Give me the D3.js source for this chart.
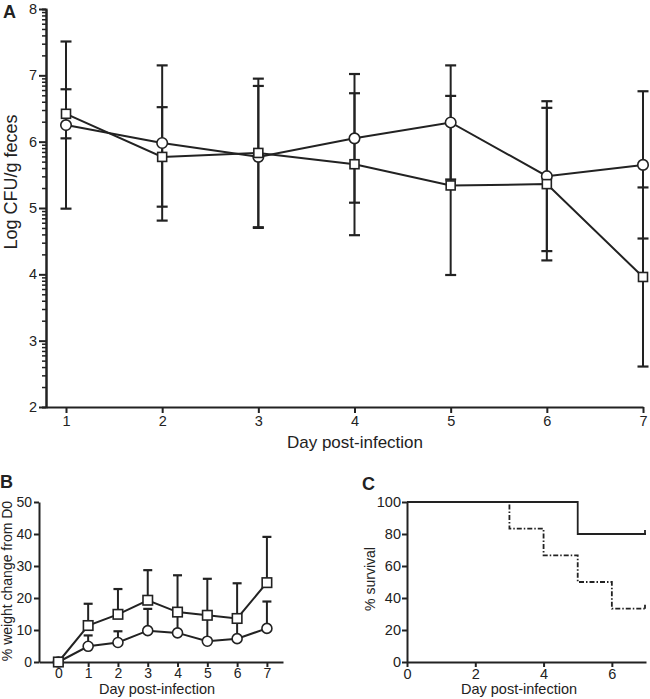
<!DOCTYPE html>
<html><head><meta charset="utf-8">
<script src="https://cdn.jsdelivr.net/npm/d3@7"></script>
<style>
body{margin:0;background:#fff;}
svg{display:block;font-family:"Liberation Sans",Arial,Helvetica,sans-serif;}
</style></head>
<body><svg id="c" width="650" height="699"></svg>
<script>
// ---------- Panel A data ----------
const daysA = [1, 2, 3, 4, 5, 6, 7];
const cfuCircleMean = [6.25, 5.98, 5.77, 6.05, 6.29, 5.48, 5.65];
const cfuCircleSD   = [1.26, 1.17, 1.07, 0.97, 0.86, 1.13, 1.11];
const cfuSquareMean = [6.42, 5.77, 5.83, 5.66, 5.34, 5.36, 3.96];
const cfuSquareSD   = [0.37, 0.75, 1.12, 1.07, 1.35, 1.15, 1.35];
const yTicksA = [2, 3, 4, 5, 6, 7, 8];

// ---------- Panel B data ----------
const daysB = [0, 1, 2, 3, 4, 5, 6, 7];
const wtSquareMean = [0, 11.4, 14.9, 19.3, 15.6, 14.6, 13.6, 24.8];
const wtSquareSD   = [0, 6.8, 7.9, 9.4, 11.5, 11.4, 11.0, 14.3];
const wtCircleMean = [0, 4.9, 6.1, 9.8, 9.1, 6.5, 7.3, 10.5];
const wtCircleSD   = [0, 3.4, 3.5, 6.8, 5.9, 7.5, 5.7, 8.4];
const yTicksB = [0, 10, 20, 30, 40, 50];

// ---------- Panel C data ----------
const survSolidDays = [0, 5, 7];
const survSolidPct  = [100, 80, 80];
const survDashDays  = [0, 3, 4, 5, 6, 7];
const survDashPct   = [100, 83.3, 66.7, 50, 33.3, 33.3];
const xTicksC = [0, 2, 4, 6];
const yTicksC = [0, 20, 40, 60, 80, 100];

const INK = "#222";
const FONT = '"Liberation Sans",Arial,Helvetica,sans-serif';
const svg = d3.select("#c");

function styleAxis(g, fs) {
  g.attr("font-size", fs).attr("font-family", FONT);
  g.select(".domain").attr("stroke", INK).attr("stroke-width", 2);
  g.selectAll(".tick line").attr("stroke", INK).attr("stroke-width", 2);
  g.selectAll(".tick text").attr("fill", INK).style("font-size", fs + "px").style("font-family", FONT);
}

// ================= Panel A =================
const xA = d3.scaleLinear().domain([0.792, 7]).range([46, 643]);
const yA = d3.scaleLinear().domain([2, 8]).range([407, 9]);

// minor log-style ticks
const minorA = [];
for (let n = 2; n < 8; n++) for (let k = 2; k <= 9; k++) minorA.push(n + Math.log10(k));
const gMinorA = svg.append("g").attr("transform", "translate(46,0)")
  .call(d3.axisLeft(yA).tickValues(minorA).tickSize(4).tickFormat(""));
styleAxis(gMinorA, 14);
gMinorA.selectAll(".tick line").attr("stroke-width", 1.5);

const gyA = svg.append("g").attr("transform", "translate(46,0)")
  .call(d3.axisLeft(yA).tickValues(yTicksA).tickSize(7).tickPadding(2).tickSizeOuter(0).tickFormat(d3.format("d")));
styleAxis(gyA, 14.5);

const gxA = svg.append("g").attr("transform", "translate(0,407)")
  .call(d3.axisBottom(xA).tickValues(daysA).tickSize(6).tickPadding(3).tickSizeOuter(0).tickFormat(d3.format("d")));
styleAxis(gxA, 14.5);

function drawSeries(gp, xs, means, sds, capW, upperOnly) {
  const data = xs.map((d, i) => ({x: d, m: means[i], s: sds[i]}));
  const eb = gp.append("g").attr("stroke", INK).attr("stroke-width", 2);
  data.forEach(d => {
    if (d.s <= 0) return;
    const lo = upperOnly ? d.m : d.m - d.s, hi = d.m + d.s;
    const cx = gp.xs(d.x);
    eb.append("line").attr("x1", cx).attr("x2", cx).attr("y1", gp.ys(lo)).attr("y2", gp.ys(hi));
    eb.append("line").attr("x1", cx - capW / 2).attr("x2", cx + capW / 2)
      .attr("y1", gp.ys(hi)).attr("y2", gp.ys(hi)).attr("stroke-width", 2.2);
    if (!upperOnly)
      eb.append("line").attr("x1", cx - capW / 2).attr("x2", cx + capW / 2)
        .attr("y1", gp.ys(lo)).attr("y2", gp.ys(lo)).attr("stroke-width", 2.2);
  });
  return data;
}
function drawLine(gp, data) {
  gp.append("path").datum(data)
    .attr("d", d3.line().x(d => gp.xs(d.x)).y(d => gp.ys(d.m)))
    .attr("fill", "none").attr("stroke", INK).attr("stroke-width", 2);
}
function drawMarkers(gp, data, shape, size) {
  const g = gp.append("g");
  data.forEach(d => {
    if (shape === "circle")
      g.append("circle").attr("cx", gp.xs(d.x)).attr("cy", gp.ys(d.m)).attr("r", size / 2)
        .attr("fill", "#fff").attr("stroke", INK).attr("stroke-width", 1.6);
    else
      g.append("rect").attr("x", gp.xs(d.x) - size / 2).attr("y", gp.ys(d.m) - size / 2)
        .attr("width", size).attr("height", size)
        .attr("fill", "#fff").attr("stroke", INK).attr("stroke-width", 1.6);
  });
}

const pA = svg.append("g"); pA.xs = xA; pA.ys = yA;
const dCA = drawSeries(pA, daysA, cfuCircleMean, cfuCircleSD, 11, false);
const dSA = drawSeries(pA, daysA, cfuSquareMean, cfuSquareSD, 11, false);
drawLine(pA, dCA); drawLine(pA, dSA);
drawMarkers(pA, dCA, "circle", 10.5);
drawMarkers(pA, dSA, "square", 9);

svg.append("text").attr("x", 3).attr("y", 18).attr("font-size", 18).attr("font-weight", "bold")
  .attr("fill", INK).text("A");
svg.append("text").attr("transform", "translate(17,182) rotate(-90)").attr("text-anchor", "middle")
  .attr("font-size", 18).attr("fill", INK).text("Log CFU/g feces");
svg.append("text").attr("x", 355).attr("y", 448).attr("text-anchor", "middle")
  .attr("font-size", 17).attr("fill", INK).text("Day post-infection");

// ================= Panel B =================
const xB = d3.scaleLinear().domain([-0.65, 7.54]).range([39, 283]);
const yB = d3.scaleLinear().domain([0, 50]).range([662, 502]);
const gyB = svg.append("g").attr("transform", "translate(39,0)")
  .call(d3.axisLeft(yB).tickValues(yTicksB).tickSize(5).tickPadding(2).tickSizeOuter(0).tickFormat(d3.format("d")));
styleAxis(gyB, 14);
const gxB = svg.append("g").attr("transform", "translate(0,662)")
  .call(d3.axisBottom(xB).tickValues(daysB).tickSize(5).tickPadding(1).tickSizeOuter(0).tickFormat(d3.format("d")));
styleAxis(gxB, 14);

const pB = svg.append("g"); pB.xs = xB; pB.ys = yB;
const dSB = drawSeries(pB, daysB, wtSquareMean, wtSquareSD, 9, true);
const dCB = drawSeries(pB, daysB, wtCircleMean, wtCircleSD, 9, true);
drawLine(pB, dSB); drawLine(pB, dCB);
drawMarkers(pB, dCB, "circle", 10);
drawMarkers(pB, dSB, "square", 9.5);

svg.append("text").attr("x", 0).attr("y", 488).attr("font-size", 18).attr("font-weight", "bold")
  .attr("fill", INK).text("B");
svg.append("text").attr("transform", "translate(12,581) rotate(-90)").attr("text-anchor", "middle")
  .attr("font-size", 14).attr("fill", INK).text("% weight change from D0");
svg.append("text").attr("x", 157).attr("y", 694).attr("text-anchor", "middle")
  .attr("font-size", 14.5).attr("fill", INK).text("Day post-infection");

// ================= Panel C =================
const xC = d3.scaleLinear().domain([0, 7]).range([407, 646]);
const yC = d3.scaleLinear().domain([0, 100]).range([662, 502]);
const gyC = svg.append("g").attr("transform", "translate(407,0)")
  .call(d3.axisLeft(yC).tickValues(yTicksC).tickSize(5).tickPadding(1).tickSizeOuter(0).tickFormat(d3.format("d")));
styleAxis(gyC, 14.5);
const gxC = svg.append("g").attr("transform", "translate(0,662)")
  .call(d3.axisBottom(xC).tickValues(xTicksC).tickSize(5).tickPadding(1.5).tickSizeOuter(0).tickFormat(d3.format("d")));
styleAxis(gxC, 14.5);

const stepLine = d3.line().x(d => xC(d[0])).y(d => yC(d[1])).curve(d3.curveStepAfter);
const solidData = survSolidDays.map((d, i) => [d, survSolidPct[i]]);
const dashData = survDashDays.map((d, i) => [d, survDashPct[i]]);
svg.append("path").datum(dashData).attr("d", stepLine).attr("fill", "none")
  .attr("stroke", INK).attr("stroke-width", 1.8).attr("stroke-dasharray", "5,2,1.5,2");
svg.append("path").datum(solidData).attr("d", stepLine).attr("fill", "none")
  .attr("stroke", INK).attr("stroke-width", 1.8);
[solidData, dashData].forEach(arr => {
  const last = arr[arr.length - 1];
  svg.append("line").attr("x1", xC(last[0]) - 1).attr("x2", xC(last[0]) - 1)
    .attr("y1", yC(last[1])).attr("y2", yC(last[1]) - 4)
    .attr("stroke", INK).attr("stroke-width", 1.8);
});

svg.append("text").attr("x", 362).attr("y", 490).attr("font-size", 18).attr("font-weight", "bold")
  .attr("fill", INK).text("C");
svg.append("text").attr("transform", "translate(375,579) rotate(-90)").attr("text-anchor", "middle")
  .attr("font-size", 14).attr("fill", INK).text("% survival");
svg.append("text").attr("x", 519).attr("y", 694).attr("text-anchor", "middle")
  .attr("font-size", 14.5).attr("fill", INK).text("Day post-infection");
</script></body></html>
